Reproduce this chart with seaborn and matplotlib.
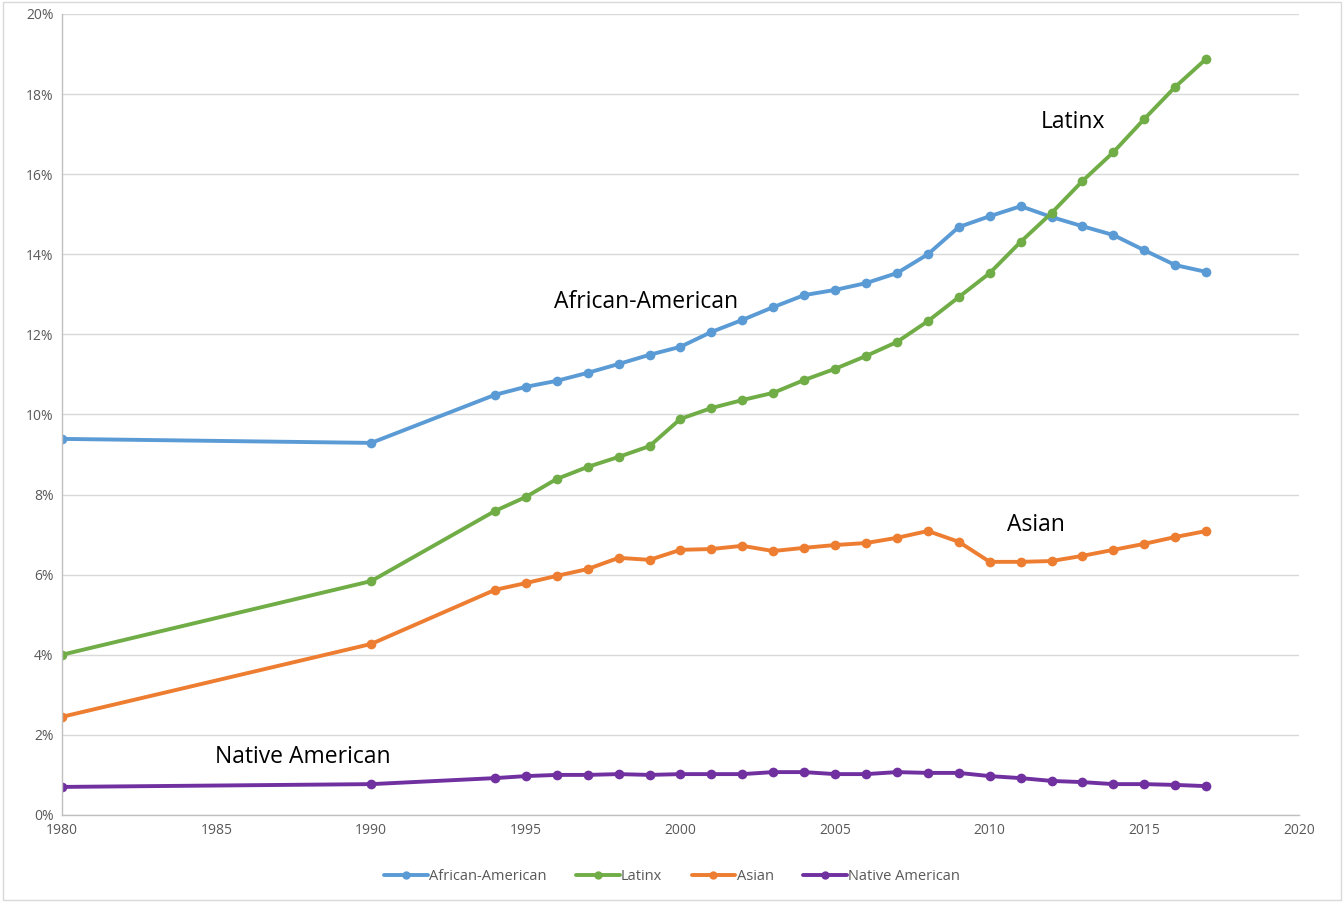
import pandas as pd
import seaborn as sns
import matplotlib.pyplot as plt
from matplotlib.patches import Rectangle
from matplotlib.ticker import FuncFormatter

years = [1980, 1990] + list(range(1994, 2018))

african_american = [9.39, 9.29, 10.49, 10.69, 10.84, 11.04, 11.26, 11.49, 11.69, 12.06,
                    12.36, 12.68, 12.98, 13.11, 13.28, 13.53, 14.0, 14.68, 14.95, 15.2,
                    14.93, 14.7, 14.48, 14.1, 13.73, 13.56]
latinx = [4.0, 5.84, 7.59, 7.94, 8.39, 8.69, 8.94, 9.21, 9.89, 10.16,
          10.36, 10.54, 10.86, 11.14, 11.46, 11.81, 12.33, 12.93, 13.53, 14.31,
          15.03, 15.83, 16.55, 17.38, 18.18, 18.88]
asian = [2.45, 4.27, 5.62, 5.79, 5.97, 6.14, 6.42, 6.37, 6.62, 6.64,
         6.72, 6.59, 6.67, 6.74, 6.79, 6.92, 7.09, 6.82, 6.32, 6.32,
         6.34, 6.47, 6.62, 6.77, 6.94, 7.09]
native_american = [0.70, 0.77, 0.92, 0.97, 1.0, 1.0, 1.02, 1.0, 1.02, 1.02,
                   1.02, 1.07, 1.07, 1.02, 1.02, 1.07, 1.05, 1.05, 0.97, 0.92,
                   0.85, 0.82, 0.77, 0.77, 0.75, 0.72]

groups = ["African-American", "Latinx", "Asian", "Native American"]
colors = ["#5B9BD5", "#70AD47", "#ED7D31", "#7030A0"]

# long-form table for seaborn
df = pd.concat([
    pd.DataFrame({"year": years, "share": vals, "group": g})
    for g, vals in zip(groups, [african_american, latinx, asian, native_american])
])

sns.set_style("white")
plt.rcParams['font.family'] = ['Open Sans', 'DejaVu Sans']

fig = plt.figure(figsize=(13.44, 9.02), dpi=100)
ax = fig.add_axes([0.0461, 0.0965, 0.9204, 0.888])

sns.lineplot(data=df, x="year", y="share", hue="group", hue_order=groups,
             palette=colors, marker="o", markersize=7, markeredgewidth=0,
             linewidth=2.8, ax=ax, legend=False)

ax.set_xlim(1980, 2020)
ax.set_ylim(0, 20)
ax.set_xticks(range(1980, 2021, 5))
ax.set_yticks(range(0, 21, 2))
ax.yaxis.set_major_formatter(FuncFormatter(lambda v, p: f"{int(v)}%"))
ax.tick_params(axis="both", labelsize=10, labelcolor="#595959", length=0, pad=6)
ax.set_xlabel("")
ax.set_ylabel("")
ax.grid(axis="y", color="#d9d9d9", linewidth=1)
ax.set_axisbelow(True)
for s in ["top", "right"]:
    ax.spines[s].set_visible(False)
for s in ["left", "bottom"]:
    ax.spines[s].set_color("#bfbfbf")
    ax.spines[s].set_linewidth(1)

# series labels on the chart
labels = {
    "African-American": (1998.9, 12.8),
    "Latinx": (2012.7, 17.3),
    "Asian": (2011.5, 7.25),
    "Native American": (1987.8, 1.45),
}
for name, (lx, ly) in labels.items():
    ax.text(lx, ly, name, ha="center", va="center", fontsize=16.5, color="black")

handles = [plt.Line2D([0], [0], color=c, linewidth=2.8, marker="o", markersize=6,
                      markeredgewidth=0) for c in colors]
fig.legend(handles, groups, loc="center", bbox_to_anchor=(0.5, 0.028), ncol=4,
           frameon=False, fontsize=10.5, labelcolor="#595959", handlelength=3,
           handletextpad=0.1, columnspacing=2.0)

fig.patches.append(Rectangle((0.002, 0.002), 0.996, 0.996, transform=fig.transFigure,
                             fill=False, edgecolor="#d9d9d9", linewidth=1))

fig.savefig("out.png", dpi=100)
